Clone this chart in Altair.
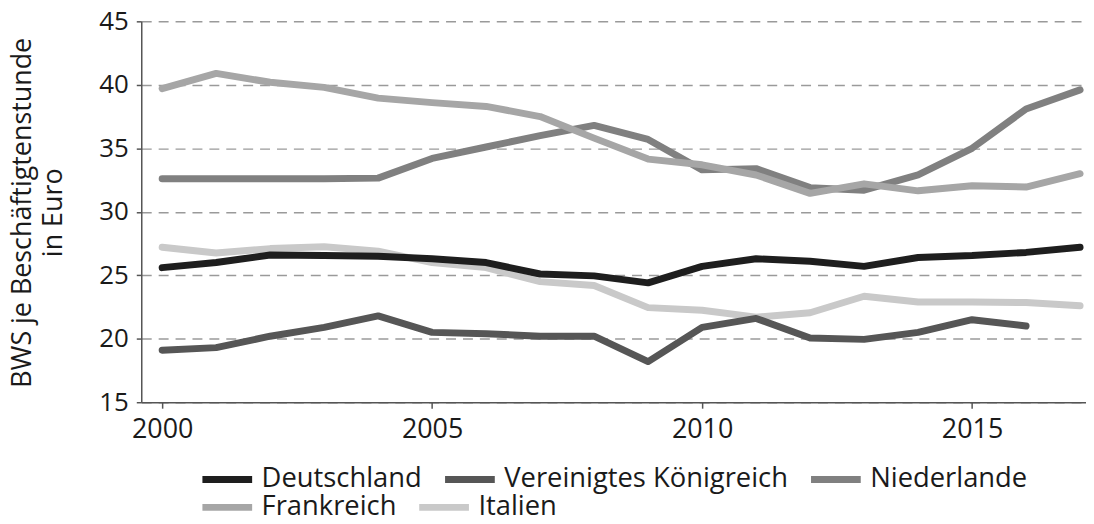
import altair as alt
import pandas as pd

years = list(range(2000, 2018))
deutschland = [25.6, 26.0, 26.6, 26.55, 26.5, 26.3, 26.0, 25.1, 24.95, 24.4, 25.7, 26.3, 26.1, 25.7, 26.4, 26.55, 26.8, 27.2]
vereinigtes_koenigreich = [19.1, 19.3, 20.2, 20.9, 21.8, 20.5, 20.4, 20.2, 20.2, 18.2, 20.9, 21.6, 20.05, 19.95, 20.5, 21.5, 21.0, None]
niederlande = [32.6, 32.6, 32.6, 32.6, 32.65, 34.2, 35.1, 36.0, 36.8, 35.7, 33.3, 33.4, 31.9, 31.7, 32.9, 35.0, 38.1, 39.6]
frankreich = [39.7, 40.9, 40.2, 39.8, 38.95, 38.6, 38.3, 37.5, 35.8, 34.15, 33.7, 32.9, 31.45, 32.2, 31.65, 32.05, 31.95, 33.0]
italien = [27.2, 26.75, 27.1, 27.25, 26.9, 26.0, 25.6, 24.5, 24.2, 22.45, 22.25, 21.7, 22.05, 23.35, 22.9, 22.9, 22.85, 22.6]

countries = ["Deutschland", "Vereinigtes Königreich", "Niederlande", "Frankreich", "Italien"]
colors = ["#1e1e1e", "#565656", "#808080", "#a6a6a6", "#c9c9c9"]
series = [deutschland, vereinigtes_koenigreich, niederlande, frankreich, italien]
legend_row1 = countries[:3]
legend_row2 = countries[3:]
draw_order = ["Italien", "Vereinigtes Königreich", "Niederlande", "Frankreich", "Deutschland"]

rows = []
for name, vals in zip(countries, series):
    for y, v in zip(years, vals):
        if v is not None:
            rows.append({"Jahr": y, "Wert": v, "Land": name})
df = pd.DataFrame(rows)

FONT = "Open Sans"
TEXT = "#1a1a1a"
AXIS = "#555555"


def legend(y_pos):
    return alt.Legend(
        title=None,
        orient="none",
        legendX=58,
        legendY=y_pos,
        direction="horizontal",
        columns=3,
        columnPadding=8,
        padding=0,
        symbolType="M-1,0H1",
        symbolStrokeWidth=7,
        symbolSize=2500,
        labelFontSize=27.5,
        labelFont=FONT,
        labelColor=TEXT,
        labelOffset=6,
        labelLimit=400,
    )


color_row1 = alt.Color(
    "Land:N",
    scale=alt.Scale(domain=legend_row1, range=colors[:3]),
    legend=legend(432),
)
stroke_row2 = alt.Stroke(
    "Land:N",
    scale=alt.Scale(domain=legend_row2, range=colors[3:]),
    legend=legend(460),
)

x = alt.X(
    "Jahr:Q",
    scale=alt.Scale(domain=[1999.613, 2017.11], nice=False, zero=False),
    axis=alt.Axis(
        values=[2000, 2005, 2010, 2015],
        format="d",
        title=None,
        grid=False,
        tickSize=6,
        tickColor=AXIS,
        tickWidth=1.5,
        domainColor=AXIS,
        domainWidth=1.5,
        labelFontSize=27,
        labelFont=FONT,
        labelColor=TEXT,
        labelPadding=8,
    ),
)

y = alt.Y(
    "Wert:Q",
    scale=alt.Scale(domain=[15, 45], nice=False, zero=False),
    axis=alt.Axis(
        values=[15, 20, 25, 30, 35, 40, 45],
        title=["BWS je Beschäftigtenstunde", "in Euro"],
        titleFontSize=27,
        titleFont=FONT,
        titleFontWeight="normal",
        titleColor=TEXT,
        titleAngle=-90,
        titleAlign="center",
        titleBaseline="top",
        titleX=-132,
        titleY=192,
        titleLineHeight=31,
        grid=True,
        gridDash=[10, 7],
        gridColor="#9a9a9a",
        gridWidth=1.5,
        tickSize=5,
        tickColor=AXIS,
        tickWidth=1.5,
        domainColor=AXIS,
        domainWidth=1.5,
        labelFontSize=26,
        labelFont=FONT,
        labelColor=TEXT,
        labelPadding=8,
    ),
)

layers = []
for name in draw_order:
    enc = {"x": x, "y": y}
    if name in legend_row1:
        enc["color"] = color_row1
    else:
        enc["stroke"] = stroke_row2
    layers.append(
        alt.Chart(df)
        .transform_filter(alt.datum.Land == name)
        .mark_line(strokeWidth=7, strokeCap="round", strokeJoin="round")
        .encode(**enc)
    )

chart = (
    alt.layer(*layers)
    .properties(
        width=950,
        height=383,
        autosize=alt.AutoSizeParams(type="none"),
        padding={"left": 134, "top": 12, "right": 0, "bottom": 113},
        background="white",
    )
    .configure_view(stroke=None)
)

chart.save("out.html", embed_options={"renderer": "svg", "actions": False})
